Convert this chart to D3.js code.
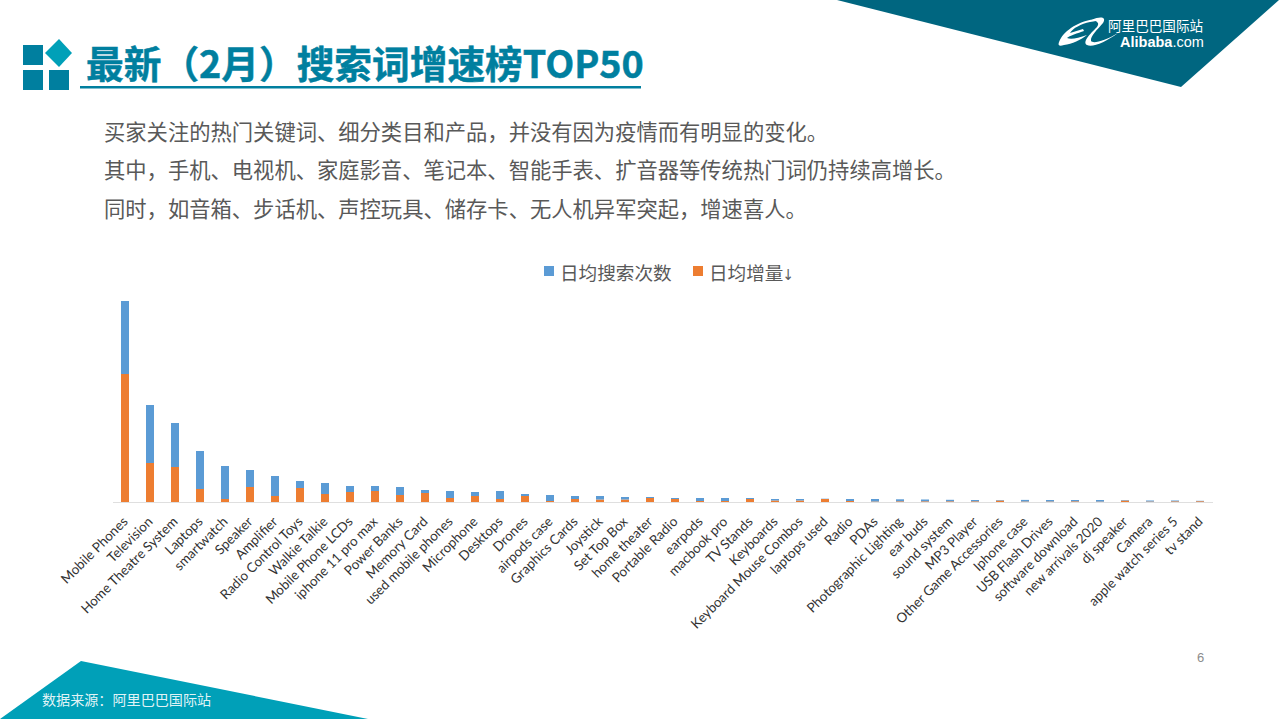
<!DOCTYPE html>
<html><head><meta charset="utf-8">
<script src="https://cdn.jsdelivr.net/npm/d3@7/dist/d3.min.js"></script>
<style>html,body{margin:0;padding:0;background:#fff;overflow:hidden}svg{display:block}</style>
</head><body><svg id="c" width="1279" height="719"></svg>
<script>
const categories=["Mobile Phones","Television","Home Theatre System","Laptops","smartwatch","Speaker","Amplifier","Radio Control Toys","Walkie Talkie","Mobile Phone LCDs","iphone 11 pro max","Power Banks","Memory Card","used mobile phones","Microphone","Desktops","Drones","airpods case","Graphics Cards","Joystick","Set Top Box","home theater","Portable Radio","earpods","macbook pro","TV Stands","Keyboards","Keyboard Mouse Combos","laptops used","Radio","PDAs","Photographic Lighting","ear buds","sound system","MP3 Player","Other Game Accessories","Iphone case","USB Flash Drives","software download","new arrivals 2020","dj speaker","Camera","apple watch series 5","tv stand"];
const dailySearches=[73,58,44,38,33,17,20,7,11,6,5,8,3,7,4,8,2,6,3,3.5,2.5,1,1,3,3,1,1.5,1.5,0.3,2,2.5,2,1.8,1.5,1.3,0.5,1.6,1.5,1.3,1.6,0.5,1,0.8,0.4];
const dailyGrowth=[128,39,35,13,3,15,6,14,8,10,11,7,9,4,6,3,6,1,3,2.5,2.5,4,3,1,1,3,1.5,1.5,3,1,0.5,0.7,0.7,0.7,0.7,1.5,0.5,0.5,0.7,0.4,1.5,0.5,0.7,0.8];
const seriesNames=["日均搜索次数","日均增量"];
const sortMark="↓";
const seriesColors=["#5b9bd5","#ed7d31"];
const cjk="'Noto Sans CJK SC','Noto Sans',sans-serif";
const svg=d3.select("#c");

// decoration
svg.append("polygon").attr("points","837,0 1279,0 1181,87").attr("fill","#006680");
svg.append("polygon").attr("points","0,719 81,661 368,719").attr("fill","#00a0b8");
const deco=svg.append("g").attr("fill","#007f9f");
[[23,45],[23,70],[49,70]].forEach(p=>deco.append("rect").attr("x",p[0]).attr("y",p[1]).attr("width",20).attr("height",20));
svg.append("polygon").attr("points","59,39 72,53 59,67 45,53").attr("fill","#00a0b8");
svg.append("rect").attr("x",80).attr("y",86).attr("width",561).attr("height",2.5).attr("fill","#007f9f");
svg.append("text").attr("x",86).attr("y",78).attr("font-family",cjk).attr("font-weight",700).attr("font-size",37.7)
 .attr("fill","#007f9f").attr("stroke","#007f9f").attr("stroke-width",0.5).text("最新（2月）搜索词增速榜TOP50");

// intro lines
const intro=["买家关注的热门关键词、细分类目和产品，并没有因为疫情而有明显的变化。","其中，手机、电视机、家庭影音、笔记本、智能手表、扩音器等传统热门词仍持续高增长。","同时，如音箱、步话机、声控玩具、储存卡、无人机异军突起，增速喜人。"];
svg.append("g").selectAll("text").data(intro).join("text").attr("x",104).attr("y",(d,i)=>140+i*38.3)
 .attr("font-family",cjk).attr("font-size",21.3).attr("fill","#595959").text(d=>d);

// logo
const logo=svg.append("g").attr("fill","#fff");
logo.append("path").attr("d","M1100,19 C1085,18 1067,28 1061,38 C1057,45 1058,47 1064,45 C1072,44 1081,40 1087,35 C1078,38 1071,40 1067,38 C1069,36 1078,33 1084,31 L1083,29 L1070,33 C1073,28 1081,24 1090,22 C1095,21 1097,21 1100,19 Z");
logo.append("path").attr("d","M1092,20 C1100,16 1107,17 1103,23 C1098,29 1090,36 1091,41 C1093,44 1105,41 1118,33 C1106,42 1092,48 1087,45 C1082,42 1090,34 1097,27 C1100,23 1097,21 1092,20 Z");
logo.append("text").attr("x",1108).attr("y",30.5).attr("font-family",cjk).attr("font-size",13.6).text("阿里巴巴国际站");
const al=logo.append("text").attr("x",1120).attr("y",47).attr("font-family","'Liberation Sans',sans-serif").attr("font-size",14.5);
al.append("tspan").attr("font-weight",700).text("Alibaba");
al.append("tspan").text(".com");

// chart
const x=d3.scaleBand().domain(categories).range([112.5,1212.5]);
const y=d3.scaleLinear().domain([0,201]).range([502,301]);
const rows=categories.map((c,i)=>({c,search:dailySearches[i],growth:dailyGrowth[i]}));
const stack=d3.stack().keys(["growth","search"])(rows);
const colorOf={growth:seriesColors[1],search:seriesColors[0]};
const barW=8;
svg.append("g").selectAll("g").data(stack).join("g").attr("fill",d=>colorOf[d.key])
 .selectAll("rect").data(d=>d).join("rect")
 .attr("x",d=>x(d.data.c)+x.bandwidth()/2-barW/2).attr("width",barW)
 .attr("y",d=>y(d[1])).attr("height",d=>y(d[0])-y(d[1]));

const ax=svg.append("g").attr("transform","translate(0,502)").call(d3.axisBottom(x).tickSize(0).tickPadding(0));
ax.select(".domain").attr("stroke","#d9d9d9").attr("stroke-width",1.2).attr("stroke-opacity",.85);
ax.selectAll("text").attr("font-family","Lato,sans-serif").attr("font-size",13.4).attr("fill","#333")
 .attr("text-anchor","end").attr("dx",0).attr("dy",0)
 .attr("transform","translate(3.5,20.5) rotate(-45)");

// legend
const lg=svg.append("g").attr("font-family",cjk).attr("font-size",18.6).attr("fill","#595959");
[[544,560],[693,709]].forEach((p,i)=>{
 lg.append("rect").attr("x",p[0]).attr("y",266).attr("width",10).attr("height",10).attr("fill",seriesColors[i]);
 const t=lg.append("text").attr("x",p[1]).attr("y",280).text(seriesNames[i]);
 if(i===1) t.append("tspan").attr("font-size",15).attr("dx",-1).attr("font-family","'DejaVu Sans Condensed','DejaVu Sans',sans-serif").text(sortMark);
});

svg.append("text").attr("x",1197).attr("y",662).attr("font-family","'Liberation Sans',sans-serif").attr("font-size",13).attr("fill","#8c8c8c").text("6");
svg.append("text").attr("x",42).attr("y",705).attr("font-family",cjk).attr("font-size",14.1).attr("fill","#fff").attr("fill-opacity",.9).text("数据来源：阿里巴巴国际站");
</script></body></html>
